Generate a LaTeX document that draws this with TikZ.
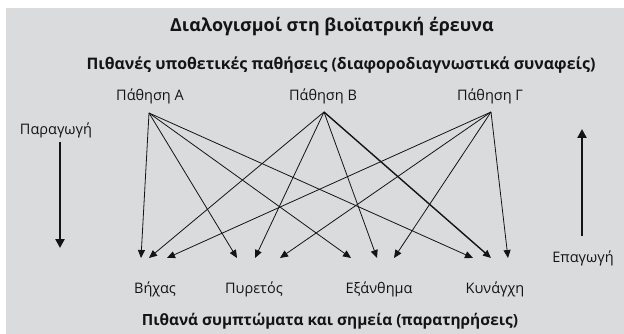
\documentclass[tikz,border=0pt]{standalone}
\usepackage{fontspec}
\setmainfont{Open Sans}
\usetikzlibrary{arrows.meta}
\definecolor{panel}{RGB}{218,219,221}
\definecolor{ink}{RGB}{20,20,20}
\tikzset{
  x=1pt, y=-1pt,
  label/.style={text=ink, inner sep=0pt, anchor=base, font=\fontsize{14.5}{16}\selectfont},
  heading/.style={text=ink, inner sep=0pt, anchor=base, font=\bfseries\fontsize{15.4}{17}\selectfont},
  link/.style={draw=ink, line width=0.8pt, -{Triangle[length=8pt,width=7pt]}},
  bigarrow/.style={draw=ink, line width=2.4pt, -{Triangle[length=9pt,width=9pt]}},
}
\begin{document}
\begin{tikzpicture}
\useasboundingbox (0,0) rectangle (624,334);
\fill[panel] (6,8) rectangle (624,334);

% headings
\node[heading, font=\bfseries\fontsize{17.9}{20}\selectfont] (title) at (332,32) {Διαλογισμοί στη βιοϊατρική έρευνα};
\node[heading, font=\bfseries\fontsize{15.9}{18}\selectfont] (hyp) at (341,70) {Πιθανές υποθετικές παθήσεις (διαφοροδιαγνωστικά συναφείς)};
\node[heading] (obs) at (330,325) {Πιθανά συμπτώματα και σημεία (παρατηρήσεις)};

% hypotheses
\node[label] (pA) at (150,101) {Πάθηση Α};
\node[label] (pB) at (323,101) {Πάθηση Β};
\node[label] (pG) at (490,101) {Πάθηση Γ};
\coordinate (oA) at (149,113);
\coordinate (oB) at (324,112);
\coordinate (oG) at (491,112);

% observations
\node[label] (s1) at (155,293) {Βήχας};
\node[label] (s2) at (254,293) {Πυρετός};
\node[label] (s3) at (379,293) {Εξάνθημα};
\node[label] (s4) at (495,293) {Κυνάγχη};

% arrow ends above each observation
\coordinate (a1) at (141,258); \coordinate (b1) at (149,258); \coordinate (g1) at (167,258);
\coordinate (a2) at (237,258); \coordinate (b2) at (255,258); \coordinate (g2) at (280,258);
\coordinate (a3) at (351,258); \coordinate (b3) at (377,258); \coordinate (g3) at (394,258);
\coordinate (a4) at (473,258); \coordinate (b4) at (491,258); \coordinate (g4) at (508,258);

\foreach \i in {1,2,3,4} {
  \draw[link] (oA) -- (a\i);
  \draw[link] (oG) -- (g\i);
}
\foreach \i in {1,2,3} {
  \draw[link] (oB) -- (b\i);
}
\draw[link, line width=1.4pt] (oB) -- (b4);

% reasoning directions
\node[label] (ded) at (56,135) {Παραγωγή};
\coordinate (dedEnd) at (60,248);
\draw[bigarrow] (60,142) -- (dedEnd);
\node[label] (ind) at (583,262) {Επαγωγή};
\coordinate (indEnd) at (582,129);
\draw[bigarrow] (582,236) -- (indEnd);
\end{tikzpicture}
\end{document}
